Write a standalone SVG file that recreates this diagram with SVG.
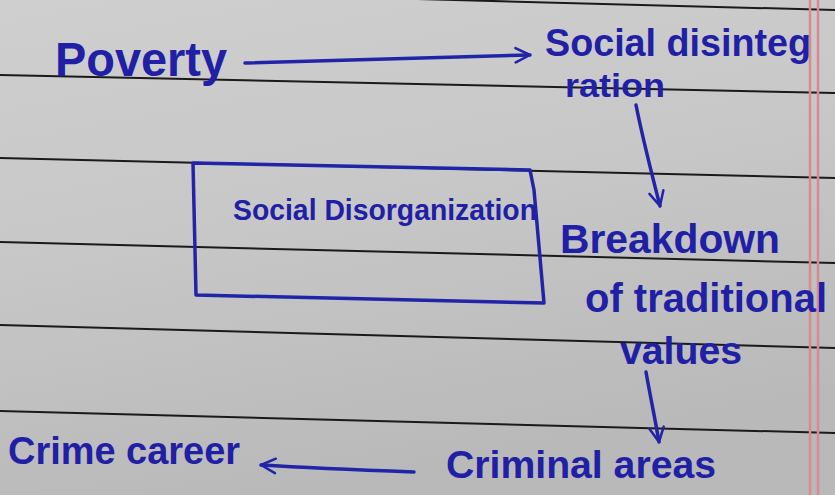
<svg xmlns="http://www.w3.org/2000/svg" width="835" height="495" viewBox="0 0 835 495">
<style>
.ink{fill:#1f20a6;font-family:"Liberation Sans","DejaVu Sans",sans-serif;font-weight:bold;}
.rule{stroke:#1a1a1a;stroke-width:2;fill:none;}
.margin{stroke:#d98a8f;stroke-width:2.5;fill:none;}
.pen{stroke:#2224a8;stroke-width:3.5;fill:none;stroke-linecap:round;stroke-linejoin:round;}
</style>
<defs>
<linearGradient id="paper" x1="0" y1="0" x2="0.3" y2="1">
<stop offset="0" stop-color="#cfcfcf"/>
<stop offset="0.5" stop-color="#c7c7c7"/>
<stop offset="1" stop-color="#b9b9b9"/>
</linearGradient>
<marker id="head" viewBox="0 0 20 20" refX="18" refY="10" markerWidth="18" markerHeight="18" markerUnits="userSpaceOnUse" orient="auto">
<path d="M2,2 L18,10 L2,18" fill="none" stroke="#2224a8" stroke-width="2.8" stroke-linecap="round" stroke-linejoin="round"/>
</marker>
</defs>
<rect width="835" height="495" fill="url(#paper)"/>
<g id="paper-lines">
<line class="rule" x1="0" y1="-12" x2="835" y2="10"/>
<line class="rule" x1="0" y1="75" x2="835" y2="93"/>
<line class="rule" x1="0" y1="158" x2="835" y2="178"/>
<line class="rule" x1="0" y1="242" x2="835" y2="263"/>
<line class="rule" x1="0" y1="325" x2="835" y2="348"/>
<line class="rule" x1="0" y1="411" x2="835" y2="433"/>
<line class="margin" x1="810" y1="0" x2="810" y2="495"/>
<line class="margin" x1="818" y1="0" x2="818" y2="495"/>
</g>
<g id="connectors">
<path class="pen" d="M245,63 C330,60 430,57 530,55" marker-end="url(#head)"/>
<path class="pen" d="M636,105 C643,140 652,175 660,206" marker-end="url(#head)"/>
<path class="pen" d="M646,372 C650,395 655,418 659,442" marker-end="url(#head)"/>
<path class="pen" d="M414,472 C360,470 310,468 261,465" marker-end="url(#head)"/>
</g>
<g id="poverty">
<text class="ink" x="55" y="76" font-size="48" textLength="172" lengthAdjust="spacingAndGlyphs">Poverty</text>
</g>
<g id="social-disintegration">
<text class="ink" x="545" y="56" font-size="38" textLength="266" lengthAdjust="spacingAndGlyphs">Social disinteg</text>
<text class="ink" x="565" y="97" font-size="34" textLength="100" lengthAdjust="spacingAndGlyphs">ration</text>
</g>
<g id="social-disorganization">
<path class="pen" d="M193,163 L530,170 L534,190 L544,303 L196,295 Z"/>
<text class="ink" x="233" y="220" font-size="29" textLength="304" lengthAdjust="spacingAndGlyphs">Social Disorganization</text>
</g>
<g id="breakdown">
<text class="ink" x="560" y="253" font-size="41" textLength="220" lengthAdjust="spacingAndGlyphs">Breakdown</text>
<text class="ink" x="585" y="312" font-size="40" textLength="242" lengthAdjust="spacingAndGlyphs">of traditional</text>
<text class="ink" x="620" y="364" font-size="39" textLength="122" lengthAdjust="spacingAndGlyphs">values</text>
</g>
<g id="criminal-areas">
<text class="ink" x="446" y="478" font-size="39" textLength="270" lengthAdjust="spacingAndGlyphs">Criminal areas</text>
</g>
<g id="crime-career">
<text class="ink" x="8" y="464" font-size="38" textLength="232" lengthAdjust="spacingAndGlyphs">Crime career</text>
</g>
</svg>
